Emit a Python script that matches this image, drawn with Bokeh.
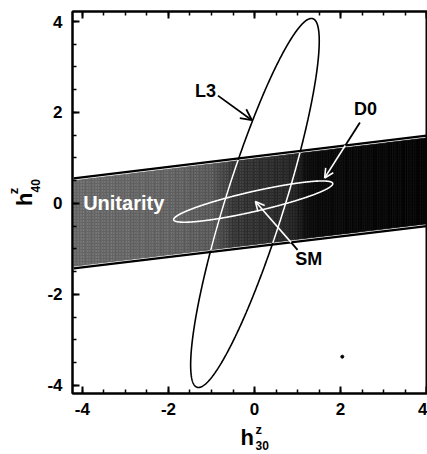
import numpy as np
from bokeh.plotting import figure
from bokeh.layouts import column, row
from bokeh.models import Range1d, LinearAxis, Label, Arrow, OpenHead, SingleIntervalTicker
from bokeh.embed import file_html
from bokeh.resources import INLINE

# ---------------- data ----------------
tick_values = [-4, -2, 0, 2, 4]
tick_labels = ["-4", "-2", "0", "2", "4"]

# Unitarity band (straight edges)
band_x = [-4.2, 4.0]
band_upper = [0.55, 1.49]
band_lower = [-1.43, -0.50]
# shading of the band along h30 (grey level 0-255) and its speckle strength
shade_x = [-4.2, -2.0, -1.0, -0.45, 0.85, 1.3, 4.0]
shade_level = [100, 94, 84, 48, 34, 8, 3]
speckle = [0.38, 0.38, 0.36, 0.28, 0.20, 0.06, 0.04]

# L3 contour (ellipse): centre, semi-axes, tilt in degrees
l3_center = [0.01, 0.01]
l3_axes = [4.27, 0.68]
l3_angle = 71.6
# D0 contour (ellipse)
d0_center = [-0.03, 0.04]
d0_axes = [1.89, 0.22]
d0_angle = 12.2

# Standard-model point
sm_point = [0.02, 0.04]

# annotations
l3_label = ["L3", -1.14, 2.48]
d0_label = ["D0", 2.58, 2.07]
sm_label = ["SM", 1.26, -1.22]
unit_label = ["Unitarity", -3.04, 0.0]
l3_arrow = [-0.85, 2.37, -0.06, 1.83]
d0_arrow = [2.45, 1.78, 1.63, 0.56]
sm_arrow_tail = [1.0, -1.02]

speck = [2.04, -3.37]

x_title = ["h", "z", "30"]
y_title = ["h", "z", "40"]

# ---------------- layout ----------------
FONT = "Liberation Sans"
W_TOT, H_TOT = 427, 454
YW = 43                 # strip holding the y title
XH = 32                 # strip holding the x title
W, H = W_TOT - YW, H_TOT - XH
ML, MR, MT, MB = 29, 0, 11, 29
X0, X1 = -4.23, 4.02
Y0, Y1 = -4.18, 4.22

p = figure(width=W, height=H, output_backend="svg", toolbar_location=None,
           x_range=Range1d(X0, X1), y_range=Range1d(Y0, Y1),
           min_border_left=ML, min_border_right=MR, min_border_top=MT,
           min_border_bottom=MB, background_fill_color="white",
           border_fill_color="white")
p.grid.visible = False
p.outline_line_color = "black"
p.outline_line_width = 2


def style_axis(ax, labels=True):
    ax.ticker = SingleIntervalTicker(interval=2, num_minor_ticks=4)
    ax.axis_line_width = 2
    ax.major_tick_in = 7
    ax.major_tick_out = 0
    ax.minor_tick_in = 4
    ax.minor_tick_out = 0
    ax.major_tick_line_width = 2
    ax.minor_tick_line_width = 1.5
    ax.major_label_text_font = FONT
    ax.major_label_text_font_style = "bold"
    ax.major_label_text_font_size = "17px"
    ax.major_label_text_color = "black"
    ax.major_label_overrides = dict(zip(tick_values, tick_labels))
    if not labels:
        ax.major_label_text_font_size = "0px"
        ax.major_label_text_color = None
        ax.major_label_standoff = 0


style_axis(p.xaxis[0])
p.xaxis[0].major_label_standoff = 9
style_axis(p.yaxis[0])
p.yaxis[0].major_label_standoff = 10
top = LinearAxis()
style_axis(top, labels=False)
p.add_layout(top, "above")


def upper(x):
    return np.interp(x, band_x, band_upper)


def lower(x):
    return np.interp(x, band_x, band_lower)


# ---------------- band fill (shaded slices) ----------------
inset = 0.05
edges = np.linspace(band_x[0], band_x[1], 165)
xs, ys, cols, hal = [], [], [], []
for a, b in zip(edges[:-1], edges[1:]):
    m = 0.5 * (a + b)
    xs.append([a, b, b, a])
    ys.append([lower(a) + inset, lower(b) + inset, upper(b) - inset, upper(a) - inset])
    g = int(round(np.interp(m, shade_x, shade_level)))
    cols.append("#%02x%02x%02x" % (g, g, g))
    hal.append(float(np.interp(m, shade_x, speckle)))
p.patches(xs, ys, fill_color=cols, line_color=cols, line_width=0.7,
          hatch_pattern=".", hatch_color="white", hatch_alpha=hal,
          hatch_scale=3, hatch_weight=1)


# ---------------- ellipses ----------------
def ellipse_pts(c, ax, ang):
    t = np.linspace(0, 2 * np.pi, 721)
    th = np.deg2rad(ang)
    u = ax[0] * np.cos(t)
    v = ax[1] * np.sin(t)
    return c[0] + u * np.cos(th) - v * np.sin(th), c[1] + u * np.sin(th) + v * np.cos(th)


lx, ly = ellipse_pts(l3_center, l3_axes, l3_angle)
p.line(lx, ly, line_color="black", line_width=1.6)
inside = (ly < upper(lx) - 0.02) & (ly > lower(lx) + 0.02)
p.line(np.where(inside, lx, np.nan), np.where(inside, ly, np.nan),
       line_color="white", line_width=1.6)

dx, dy = ellipse_pts(d0_center, d0_axes, d0_angle)
p.line(dx, dy, line_color="white", line_width=1.6)

# band edges
p.line(band_x, band_upper, line_color="black", line_width=2.2)
p.line(band_x, band_lower, line_color="black", line_width=2.2)


# ---------------- pointers ----------------
def cross(x0, y0, x1, y1, edge):
    m = (edge[1] - edge[0]) / (band_x[1] - band_x[0])
    c = edge[0] - m * band_x[0]
    s = (m * x0 + c - y0) / ((y1 - y0) - m * (x1 - x0))
    return x0 + s * (x1 - x0), y0 + s * (y1 - y0)


p.add_layout(Arrow(end=OpenHead(size=11, line_color="black", line_width=1.8),
                   x_start=l3_arrow[0], y_start=l3_arrow[1],
                   x_end=l3_arrow[2], y_end=l3_arrow[3],
                   line_color="black", line_width=1.8))

cx, cy = cross(d0_arrow[0], d0_arrow[1], d0_arrow[2], d0_arrow[3], band_upper)
p.segment([d0_arrow[0]], [d0_arrow[1]], [cx], [cy], line_color="black", line_width=1.8)
p.add_layout(Arrow(end=OpenHead(size=9, line_color="white", line_width=1.6),
                   x_start=cx, y_start=cy, x_end=d0_arrow[2], y_end=d0_arrow[3],
                   line_color="white", line_width=1.6))

cx, cy = cross(sm_arrow_tail[0], sm_arrow_tail[1], sm_point[0], sm_point[1], band_lower)
p.segment([sm_arrow_tail[0]], [sm_arrow_tail[1]], [cx], [cy], line_color="black", line_width=1.8)
p.add_layout(Arrow(end=OpenHead(size=9, line_color="white", line_width=1.6),
                   x_start=cx, y_start=cy, x_end=sm_point[0], y_end=sm_point[1],
                   line_color="white", line_width=1.6))

p.scatter([speck[0]], [speck[1]], size=3, color="black")

# ---------------- text inside the plot ----------------
for name, x, y in (l3_label, d0_label, sm_label):
    p.add_layout(Label(x=x, y=y, text=name, text_font=FONT, text_font_style="bold",
                       text_font_size="18px", text_align="center",
                       text_baseline="middle", text_color="black"))
p.add_layout(Label(x=unit_label[1], y=unit_label[2], text=unit_label[0], text_font=FONT,
                   text_font_style="bold", text_font_size="20px", text_align="center",
                   text_baseline="middle", text_color="white"))


# ---------------- axis titles in their own strips ----------------
def strip(w, h):
    f = figure(width=w, height=h, output_backend="svg", toolbar_location=None,
               x_range=Range1d(0, w), y_range=Range1d(0, h),
               x_axis_location=None, y_axis_location=None,
               min_border_left=0, min_border_right=0, min_border_top=0,
               min_border_bottom=0, background_fill_color="white",
               border_fill_color="white")
    f.grid.visible = False
    f.outline_line_color = None
    return f


def put(f, text, x, y, size, angle=0.0):
    f.add_layout(Label(x=x, y=y, text=text, text_font=FONT, text_font_style="bold",
                       text_font_size=size, text_align="left",
                       text_baseline="alphabetic", text_color="black", angle=angle))


ys_fig = strip(YW, H)          # pixel coords, y measured up from the strip bottom
put(ys_fig, y_title[0], 24, H - 215, "22px", np.pi / 2)
put(ys_fig, y_title[1], 12.5, H - 202, "13px", np.pi / 2)
put(ys_fig, y_title[2], 34.5, H - 200, "12px", np.pi / 2)

xs_fig = strip(W_TOT, XH)
put(xs_fig, x_title[0], 240, 17, "22px")
put(xs_fig, x_title[1], 255, 25, "13px")
put(xs_fig, x_title[2], 255, 9.5, "12px")

layout = column(row(ys_fig, p), xs_fig)
open("out.html", "w").write(file_html(layout, INLINE))
